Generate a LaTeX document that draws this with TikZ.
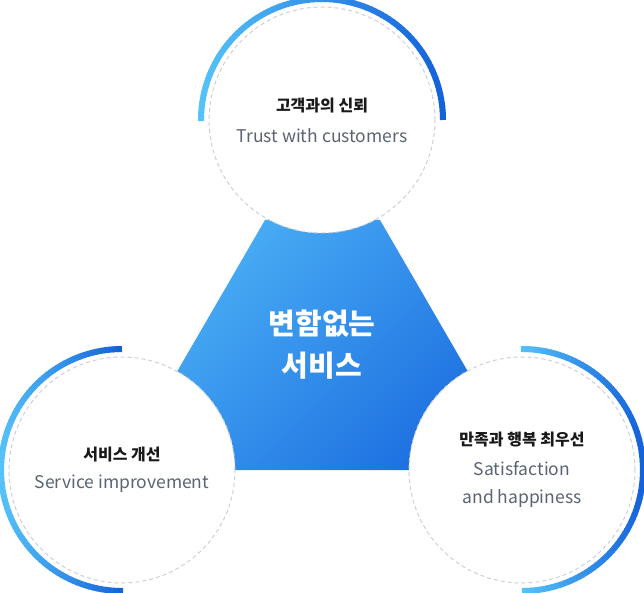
\documentclass[tikz,border=0pt]{standalone}
\usepackage{fontspec}
\usetikzlibrary{calc}
\setmainfont{Noto Sans CJK KR}
\definecolor{lt}{HTML}{55C2F9}
\definecolor{dk}{HTML}{1462DA}
\definecolor{sh1}{HTML}{4CB2F6}
\definecolor{sh2}{HTML}{1C6DE0}
\definecolor{gtxt}{HTML}{5B6474}
\definecolor{dash}{HTML}{CDD0DC}
\begin{document}
\begin{tikzpicture}[x=1pt,y=-1pt,
  ring/.style={fill=white,draw=dash,line width=1pt,dash pattern=on 4pt off 3pt},
  ttl/.style={font=\bfseries\fontsize{16}{19}\selectfont,text=black!90},
  sub/.style={font=\fontsize{17.5}{28}\selectfont,text=gtxt,align=center}]
\useasboundingbox (0,0) rectangle (644,593);
\shade[left color=sh1,right color=sh2,shading angle=45] (265,220) -- (380,220) -- (525,470) -- (120,470) -- cycle;
\coordinate (ct) at (322,120);
\coordinate (cl) at (122,470);
\coordinate (cr) at (522,470);
\node[ring,circle,minimum size=226pt,inner sep=0pt] (top) at (ct) {};
\node[ring,circle,minimum size=226pt,inner sep=0pt] (left) at (cl) {};
\node[ring,circle,minimum size=226pt,inner sep=0pt] (right) at (cr) {};
\foreach \a in {0,2,...,178}{
  \pgfmathsetmacro\p{(1-cos(\a))/2*100}
  \draw[line width=6pt,color=lt!\p!dk] ($(ct)+(\a:121pt)$) arc[start angle=\a,end angle=\a+2.5,radius=121pt];
}
\foreach \a in {90,92,...,268}{
  \pgfmathsetmacro\p{-cos(\a)*100}
  \draw[line width=6pt,color=lt!\p!dk] ($(cl)+(\a:121pt)$) arc[start angle=\a,end angle=\a+2.5,radius=121pt];
}
\foreach \a in {-90,-88,...,88}{
  \pgfmathsetmacro\p{(1-cos(\a))*100}
  \draw[line width=6pt,color=lt!\p!dk] ($(cr)+(\a:121pt)$) arc[start angle=\a,end angle=\a+2.5,radius=121pt];
}
\node[ttl] (t1) at (322,106) {고객과의 신뢰};
\node[sub] (s1) at (322,136) {Trust with customers};
\node[ttl] (t2) at (122,455) {서비스 개선};
\node[sub] (s2) at (122,484) {Service improvement};
\node[ttl] (t3) at (522,440) {만족과 행복 최우선};
\node[sub] (s3) at (522,484) {Satisfaction\\and happiness};
\node[font=\bfseries\fontsize{29}{42}\selectfont,text=white,align=center] (c) at (322,345) {변함없는\\서비스};
\end{tikzpicture}
\end{document}
